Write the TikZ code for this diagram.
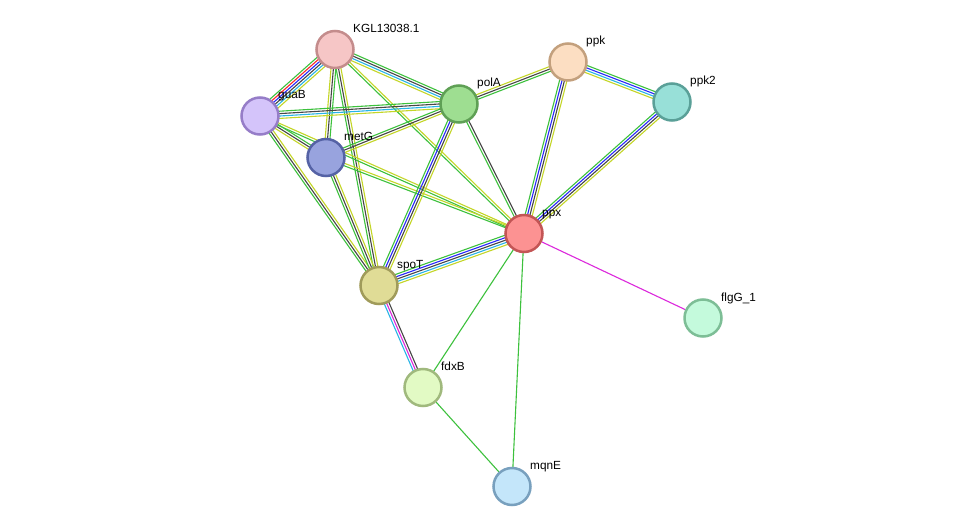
\documentclass[tikz,border=0pt]{standalone}
\usepackage{fontspec}
\setmainfont{Liberation Sans}
\usetikzlibrary{calc}
\pgfdeclarelayer{bg}
\pgfsetlayers{bg,main}
\definecolor{sgreen}{RGB}{61,193,61}
\definecolor{syellow}{RGB}{196,214,40}
\definecolor{sblack}{RGB}{70,70,70}
\definecolor{sblue}{RGB}{40,40,250}
\definecolor{scyan}{RGB}{40,180,230}
\definecolor{sred}{RGB}{250,40,40}
\definecolor{smag}{RGB}{220,40,220}
\definecolor{fKGL}{RGB}{246,198,198}\definecolor{dKGL}{RGB}{196,140,140}
\definecolor{fppk}{RGB}{252,222,194}\definecolor{dppk}{RGB}{195,160,125}
\definecolor{fppkb}{RGB}{152,224,216}\definecolor{dppkb}{RGB}{90,160,152}
\definecolor{fguaB}{RGB}{212,196,250}\definecolor{dguaB}{RGB}{150,125,200}
\definecolor{fpolA}{RGB}{158,222,145}\definecolor{dpolA}{RGB}{95,160,85}
\definecolor{fmetG}{RGB}{152,163,222}\definecolor{dmetG}{RGB}{85,98,165}
\definecolor{fppx}{RGB}{252,146,146}\definecolor{dppx}{RGB}{195,85,85}
\definecolor{fspoT}{RGB}{224,220,150}\definecolor{dspoT}{RGB}{160,155,90}
\definecolor{fflgG}{RGB}{196,250,220}\definecolor{dflgG}{RGB}{125,190,150}
\definecolor{ffdxB}{RGB}{226,250,196}\definecolor{dfdxB}{RGB}{160,185,125}
\definecolor{fmqnE}{RGB}{196,230,250}\definecolor{dmqnE}{RGB}{120,160,190}
\tikzset{
  prot/.style 2 args={circle,minimum size=37pt,inner sep=0pt,line width=2.5pt,fill=#1,draw=#2},
  lab/.style={anchor=base west,inner sep=0pt,font=\fontsize{11.8}{13}\selectfont},
  lnk/.style={line width=1.1pt},
}
\newcommand\strbundle[3]{%
  \foreach \c [count=\i] in {#3}{\xdef\nbund{\i}}%
  \foreach \c [count=\i] in {#3}{%
    \pgfmathsetmacro\off{(\i-(\nbund+1)/2)*2.4}%
    \draw[lnk,draw=\c] ($(#1)!\off pt!90:(#2)$) -- ($(#2)!\off pt!-90:(#1)$);
  }%
}
\begin{document}
\begin{tikzpicture}[x=1pt,y=-1pt]
\useasboundingbox (0,0) rectangle (975,532);
% nodes
\node[prot={fKGL}{dKGL}] (KGL) at (335,49.5) {};
\node[prot={fppk}{dppk}] (ppk) at (568,62) {};
\node[prot={fppkb}{dppkb}] (ppk2) at (672,102) {};
\node[prot={fguaB}{dguaB}] (guaB) at (260,116) {};
\node[prot={fpolA}{dpolA}] (polA) at (459,104) {};
\node[prot={fmetG}{dmetG}] (metG) at (326,157.5) {};
\node[prot={fppx}{dppx}] (ppx) at (524,233.5) {};
\node[prot={fspoT}{dspoT}] (spoT) at (379,285.5) {};
\node[prot={fflgG}{dflgG}] (flgG) at (703,318) {};
\node[prot={ffdxB}{dfdxB}] (fdxB) at (423,387.5) {};
\node[prot={fmqnE}{dmqnE}] (mqnE) at (512,486.5) {};
% labels
\node[lab] (lKGL) at ($(KGL)+(18pt,17pt)$) {KGL13038.1};
\node[lab] (lppk) at ($(ppk)+(18pt,17pt)$) {ppk};
\node[lab] (lppk2) at ($(ppk2)+(18pt,17pt)$) {ppk2};
\node[lab] (lguaB) at ($(guaB)+(18pt,17pt)$) {guaB};
\node[lab] (lpolA) at ($(polA)+(18pt,17pt)$) {polA};
\node[lab] (lmetG) at ($(metG)+(18pt,17pt)$) {metG};
\node[lab] (lppx) at ($(ppx)+(18pt,17pt)$) {ppx};
\node[lab] (lspoT) at ($(spoT)+(18pt,17pt)$) {spoT};
\node[lab] (lflgG) at ($(flgG)+(18pt,17pt)$) {flgG\_1};
\node[lab] (lfdxB) at ($(fdxB)+(18pt,17pt)$) {fdxB};
\node[lab] (lmqnE) at ($(mqnE)+(18pt,17pt)$) {mqnE};
% edges
\begin{pgfonlayer}{bg}
\fill[white] (0,0) rectangle (975,532);
\strbundle{KGL}{guaB}{sgreen,sred,sblue,sblack,scyan,syellow}
\strbundle{KGL}{polA}{syellow,scyan,sblack,sgreen}
\strbundle{KGL}{metG}{syellow,sblack,sgreen}
\strbundle{KGL}{spoT}{sgreen,sblack,syellow}
\strbundle{KGL}{ppx}{sgreen,syellow}
\strbundle{guaB}{polA}{syellow,scyan,sblack,sgreen}
\strbundle{guaB}{metG}{syellow,sblack,sgreen}
\strbundle{guaB}{spoT}{sgreen,sblack,syellow}
\strbundle{guaB}{ppx}{sgreen,syellow}
\strbundle{metG}{polA}{syellow,sblack,sgreen}
\strbundle{metG}{spoT}{sgreen,sblack,syellow}
\strbundle{metG}{ppx}{sgreen,syellow}
\strbundle{polA}{spoT}{sgreen,sblue,sblack,syellow}
\strbundle{polA}{ppx}{sgreen,sblack}
\strbundle{polA}{ppk}{sgreen,sblack,syellow}
\strbundle{ppk}{ppk2}{syellow,scyan,sblue,sgreen}
\strbundle{ppk}{ppx}{sgreen,sblue,sblack,syellow}
\strbundle{ppk2}{ppx}{sgreen,sblue,sblack,syellow}
\strbundle{ppx}{spoT}{sgreen,sblue,sblack,scyan,syellow}
\strbundle{spoT}{fdxB}{scyan,smag,sblack}
\draw[lnk,draw=smag] (ppx) -- (flgG);
\draw[lnk,draw=sgreen] (ppx) -- (fdxB);
\draw[lnk,draw=sgreen] (ppx) -- (mqnE);
\draw[lnk,draw=sgreen] (fdxB) -- (mqnE);
\end{pgfonlayer}
\end{tikzpicture}
\end{document}
